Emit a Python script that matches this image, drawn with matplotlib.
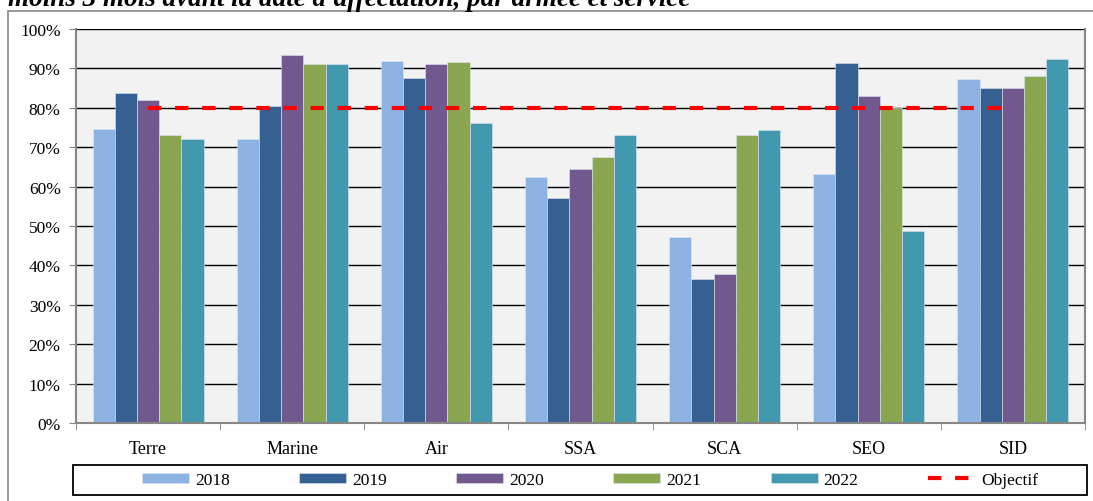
#!/usr/bin/env python3

import numpy as np
import matplotlib.pyplot as plt
from matplotlib.patches import Rectangle
from matplotlib.ticker import PercentFormatter

### data ###

categories = ["Terre", "Marine", "Air", "SSA", "SCA", "SEO", "SID"]
years = ["2018", "2019", "2020", "2021", "2022"]
v2018 = [74.6, 72.0, 92.0, 62.5, 47.2, 63.2, 87.3]
v2019 = [83.7, 80.5, 87.6, 57.2, 36.5, 91.4, 84.9]
v2020 = [82.0, 93.5, 91.2, 64.5, 37.9, 83.0, 85.0]
v2021 = [73.0, 91.0, 91.5, 67.5, 73.0, 80.0, 88.0]
v2022 = [72.0, 91.0, 76.2, 73.0, 74.3, 48.7, 92.3]
objectif = [80, 80, 80, 80, 80, 80, 80]

colors = ["#8DB3E2", "#376092", "#71588F", "#8BA650", "#4298AF"]

### plot ###

plt.rcParams['font.family'] = ['Liberation Serif', 'DejaVu Serif']

fig = plt.figure(figsize=(10.93, 5.02), dpi=100)
ax = fig.add_axes([76/1093, 78/502, 1009/1093, 394/502])
ax.set_facecolor("#F2F2F2")

x = np.arange(len(categories))
bw = 0.154
series = [v2018, v2019, v2020, v2021, v2022]
handles = []
for i, (vals, yr) in enumerate(zip(series, years)):
    b = ax.bar(x + (i - 2) * bw, vals, bw, color=colors[i], label=yr,
               edgecolor="#DDE6F0", linewidth=0.4, zorder=2)
    handles.append(b)

line, = ax.plot(x, objectif, color="#FF0000", linestyle=(0, (3.2, 3.3)), linewidth=3,
                label="Objectif", zorder=3)
handles.append(line)

ax.set_xlim(-0.5, len(categories) - 0.5)
ax.set_ylim(0, 100)
ax.set_yticks(np.arange(0, 101, 10))
ax.yaxis.set_major_formatter(PercentFormatter(decimals=0))
ax.grid(axis="y", color="black", linewidth=1, zorder=1)
ax.set_axisbelow(True)

ax.set_xticks(x)
ax.set_xticklabels(categories)
ax.set_xticks(np.arange(-0.5, len(categories), 1), minor=True)
ax.tick_params(axis="x", which="major", length=0, pad=12, labelsize=13)
ax.tick_params(axis="x", which="minor", length=5, color="#868686")
ax.tick_params(axis="y", length=5, color="#868686", labelsize=12.5, pad=6)

for side in ["left", "bottom", "right"]:
    ax.spines[side].set_color("#868686")
    ax.spines[side].set_linewidth(1.5)
ax.spines["top"].set_visible(False)

# legend without frame, box drawn separately (Excel style, wider than entries)
leg = fig.legend(handles, years + ["Objectif"], loc="center",
                 bbox_to_anchor=(590/1093, (502 - 481)/502), ncol=6,
                 frameon=False, fontsize=12.5, handlelength=2.7,
                 handleheight=0.55, handletextpad=0.35, columnspacing=4.0)
fig.patches.append(Rectangle((73/1093, (502 - 496)/502), 1014/1093, 30/502,
                             transform=fig.transFigure, fill=False,
                             edgecolor="black", linewidth=1.3))

# outer chart border
fig.patches.append(Rectangle((8/1093, -0.1), 1.2, (502 - 12)/502 + 0.1,
                             transform=fig.transFigure, fill=False,
                             edgecolor="#888888", linewidth=1.2))

fig.text(8/1093, (502 - 6)/502, "moins 3 mois avant la date d'affectation, par armée et service",
         fontsize=19.5, style="italic", weight="bold", va="baseline", ha="left")

fig.savefig("out.png", dpi=100)
